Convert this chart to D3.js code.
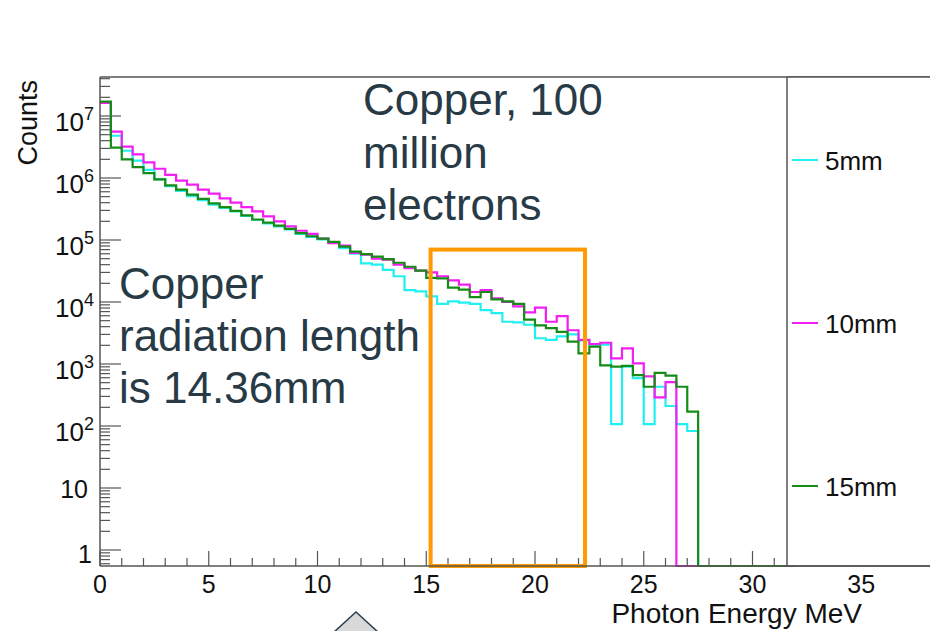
<!DOCTYPE html>
<html>
<head>
<meta charset="utf-8">
<script src="https://cdn.jsdelivr.net/npm/d3@7"></script>
<style>
  html, body { margin: 0; padding: 0; background: #fff; }
  svg { display: block; }
  text { font-family: "Liberation Sans", Arial, Helvetica, sans-serif; }
</style>
</head>
<body>
<svg id="chart" width="930" height="631"></svg>
<script>
// ---------------- data (photon energy histograms, 0.5 MeV bins from 0 MeV) ----------------
const binWidthMeV = 0.5;
const seriesNames = ["5mm", "10mm", "15mm"];
const seriesColors = ["#22f0f0", "#f21ef2", "#168c16"];

const counts5mm = [
  1.66e7, 4.8e6, 2.75e6, 1.9e6, 1.35e6, 9.5e5, 7.4e5, 6.2e5, 5.1e5, 4.4e5,
  3.7e5, 3.3e5, 2.9e5, 2.45e5, 2.1e5, 1.86e5, 1.66e5, 1.48e5, 1.26e5, 1.12e5,
  1.02e5, 9.1e4, 7.4e4, 6.0e4, 4.2e4, 4.0e4, 3.3e4, 2.6e4, 1.55e4, 1.48e4,
  1.23e4, 9.3e3, 1.02e4, 9.8e3, 9.3e3, 7.4e3, 6.6e3, 4.8e3, 4.7e3, 4.3e3,
  2.6e3, 2.45e3, 2.8e3, 3.0e3, 2.4e3, 2.05e3, 2.05e3, 107, 910, 590,
  107, 430, 210, 107, 83, 0, 0, 0, 0, 0,
  0, 0, 0, 0
];
const counts10mm = [
  1.62e7, 5.6e6, 3.2e6, 2.4e6, 1.78e6, 1.41e6, 1.12e6, 9.1e5, 7.8e5, 6.5e5,
  5.6e5, 4.7e5, 4.0e5, 3.4e5, 2.9e5, 2.4e5, 2.0e5, 1.66e5, 1.41e5, 1.26e5,
  1.05e5, 8.9e4, 8.1e4, 6.2e4, 5.8e4, 5.0e4, 4.8e4, 4.0e4, 3.5e4, 3.2e4,
  3.0e4, 2.6e4, 2.24e4, 1.9e4, 1.45e4, 1.55e4, 1.15e4, 1.0e4, 8.5e3, 6.8e3,
  8.1e3, 4.8e3, 5.9e3, 3.5e3, 2.45e3, 2.1e3, 2.2e3, 1.23e3, 1.78e3, 1.02e3,
  630, 290, 510, 0, 0, 0, 0, 0, 0, 0,
  0, 0, 0, 0
];
const counts15mm = [
  1.7e7, 3.1e6, 2.0e6, 1.5e6, 1.2e6, 9.5e5, 7.6e5, 6.5e5, 5.4e5, 4.6e5,
  3.9e5, 3.4e5, 2.95e5, 2.5e5, 2.14e5, 1.9e5, 1.7e5, 1.51e5, 1.29e5, 1.15e5,
  1.05e5, 9.3e4, 7.8e4, 6.5e4, 5.9e4, 5.4e4, 4.9e4, 4.3e4, 3.7e4, 3.2e4,
  2.45e4, 2.4e4, 1.7e4, 1.58e4, 1.2e4, 1.45e4, 1.1e4, 1.02e4, 9.3e3, 5.2e3,
  4.2e3, 3.8e3, 3.3e3, 2.3e3, 1.48e3, 1.9e3, 950, 910, 930, 660,
  430, 720, 650, 430, 170, 0, 0, 0, 0, 0,
  0, 0, 0, 0
];

const xTickLabels = [0, 5, 10, 15, 20, 25, 30, 35];
const yDecades = [0, 1, 2, 3, 4, 5, 6, 7];     // tick labels 1, 10, 10^2 ... 10^7
const xTitle = "Photon Energy MeV";
const yTitle = "Counts";
const highlightMeV = [15.2, 22.3];               // orange box on x
const highlightTopCounts = 7e4;                  // orange box top
const noteTop = ["Copper, 100", "million", "electrons"];
const noteLeft = ["Copper", "radiation length", "is 14.36mm"];

// ---------------- layout ----------------
const svg = d3.select("#chart");
const frame = { left: 100, top: 77, bottom: 566, right: 930 };
const legendLeft = 787;

const x = d3.scaleLinear().domain([0, 40]).range([100, 970]);
const y = d3.scaleLog().domain([1, 1e7]).range([550, 116]);
const yPos = v => v > 0 ? Math.min(y(v), frame.bottom) : frame.bottom;

// frame lines
const axisColor = "#555";
svg.append("line").attr("x1", frame.left).attr("x2", frame.right)
  .attr("y1", frame.top).attr("y2", frame.top)
  .attr("stroke", axisColor).attr("stroke-width", 1.5);

// x ticks (inside, pointing up)
const xMinor = d3.range(0, 40, 1);
svg.append("g").selectAll("line").data(xMinor).join("line")
  .attr("x1", d => x(d)).attr("x2", d => x(d))
  .attr("y1", frame.bottom)
  .attr("y2", d => frame.bottom - (d % 5 === 0 ? 15 : 8))
  .attr("stroke", axisColor).attr("stroke-width", 1.2);

// y ticks (inside, pointing right)
const yTickVals = [];
for (let e = -1; e <= 7; e++) {
  for (let m = 1; m <= 9; m++) {
    const v = m * Math.pow(10, e);
    if (y(v) <= frame.bottom - 1 && y(v) >= frame.top) yTickVals.push({ v, major: m === 1 });
  }
}
svg.append("g").selectAll("line").data(yTickVals).join("line")
  .attr("x1", frame.left).attr("x2", d => frame.left + (d.major ? 21 : 10))
  .attr("y1", d => y(d.v)).attr("y2", d => y(d.v))
  .attr("stroke", axisColor).attr("stroke-width", 1.2);

// histograms
const series = [counts5mm, counts10mm, counts15mm];
const line = d3.line().x(d => x(d[0])).y(d => yPos(d[1])).curve(d3.curveStepAfter);
series.forEach((vals, si) => {
  const pts = vals.map((v, i) => [i * binWidthMeV, v]);
  pts.push([vals.length * binWidthMeV, vals[vals.length - 1]]);
  svg.append("path").attr("d", line(pts))
    .attr("fill", "none").attr("stroke", seriesColors[si])
    .attr("stroke-width", 2.2).attr("stroke-linejoin", "miter");
});

// orange highlight box
svg.append("rect")
  .attr("x", x(highlightMeV[0])).attr("y", y(highlightTopCounts))
  .attr("width", x(highlightMeV[1]) - x(highlightMeV[0]))
  .attr("height", frame.bottom - y(highlightTopCounts))
  .attr("fill", "none").attr("stroke", "#ff9a00").attr("stroke-width", 4);

// legend box (covers right part of the pad)
svg.append("rect").attr("x", legendLeft).attr("y", frame.top)
  .attr("width", 200).attr("height", frame.bottom - frame.top)
  .attr("fill", "#fff").attr("stroke", axisColor).attr("stroke-width", 1.5);
const legendY = [160, 323, 486];
seriesNames.forEach((name, i) => {
  svg.append("line").attr("x1", 792).attr("x2", 818)
    .attr("y1", legendY[i]).attr("y2", legendY[i])
    .attr("stroke", seriesColors[i]).attr("stroke-width", 2);
  svg.append("text").attr("x", 825).attr("y", legendY[i] + 10)
    .attr("font-size", 26).attr("fill", "#111").text(name);
});

// axis lines
svg.append("line").attr("x1", frame.left).attr("x2", frame.right)
  .attr("y1", frame.bottom).attr("y2", frame.bottom)
  .attr("stroke", axisColor).attr("stroke-width", 1.5);
svg.append("line").attr("x1", frame.left).attr("x2", frame.left)
  .attr("y1", frame.top).attr("y2", frame.bottom)
  .attr("stroke", axisColor).attr("stroke-width", 1.5);

// x tick labels
svg.append("g").selectAll("text").data(xTickLabels).join("text")
  .attr("x", d => x(d)).attr("y", 593)
  .attr("text-anchor", "middle").attr("font-size", 25).attr("fill", "#111")
  .text(d => d);
svg.append("text").attr("x", 862).attr("y", 623).attr("text-anchor", "end")
  .attr("font-size", 28).attr("fill", "#111").text(xTitle);

// y tick labels
yDecades.forEach(k => {
  const ty = y(Math.pow(10, k));
  if (k === 0) {
    svg.append("text").attr("x", 92).attr("y", ty + 13).attr("text-anchor", "end")
      .attr("font-size", 25).attr("fill", "#111").text("1");
  } else if (k === 1) {
    svg.append("text").attr("x", 88).attr("y", ty + 10).attr("text-anchor", "end")
      .attr("font-size", 25).attr("fill", "#111").text("10");
  } else {
    const t = svg.append("text").attr("x", 94).attr("y", ty + 15).attr("text-anchor", "end")
      .attr("font-size", 26).attr("fill", "#111");
    t.append("tspan").text("10");
    t.append("tspan").attr("font-size", 18).attr("dy", -11).text(k);
  }
});
svg.append("text").attr("transform", "translate(37,80) rotate(-90)")
  .attr("text-anchor", "end").attr("font-size", 27).attr("fill", "#111").text(yTitle);

// annotations
const noteColor = "#283a46";
noteTop.forEach((s, i) => {
  svg.append("text").attr("x", 363).attr("y", 115 + i * 52.5)
    .attr("font-size", 44).attr("fill", noteColor).text(s);
});
noteLeft.forEach((s, i) => {
  svg.append("text").attr("x", 119).attr("y", 299 + i * 52)
    .attr("font-size", 44).attr("fill", noteColor).text(s);
});

// arrow tip shape at the bottom
svg.append("path").attr("d", "M333,633 L356,612 L379,633")
  .attr("fill", "#d9d9d9").attr("stroke", "#2e3f4c").attr("stroke-width", 1.5);
</script>
</body>
</html>
